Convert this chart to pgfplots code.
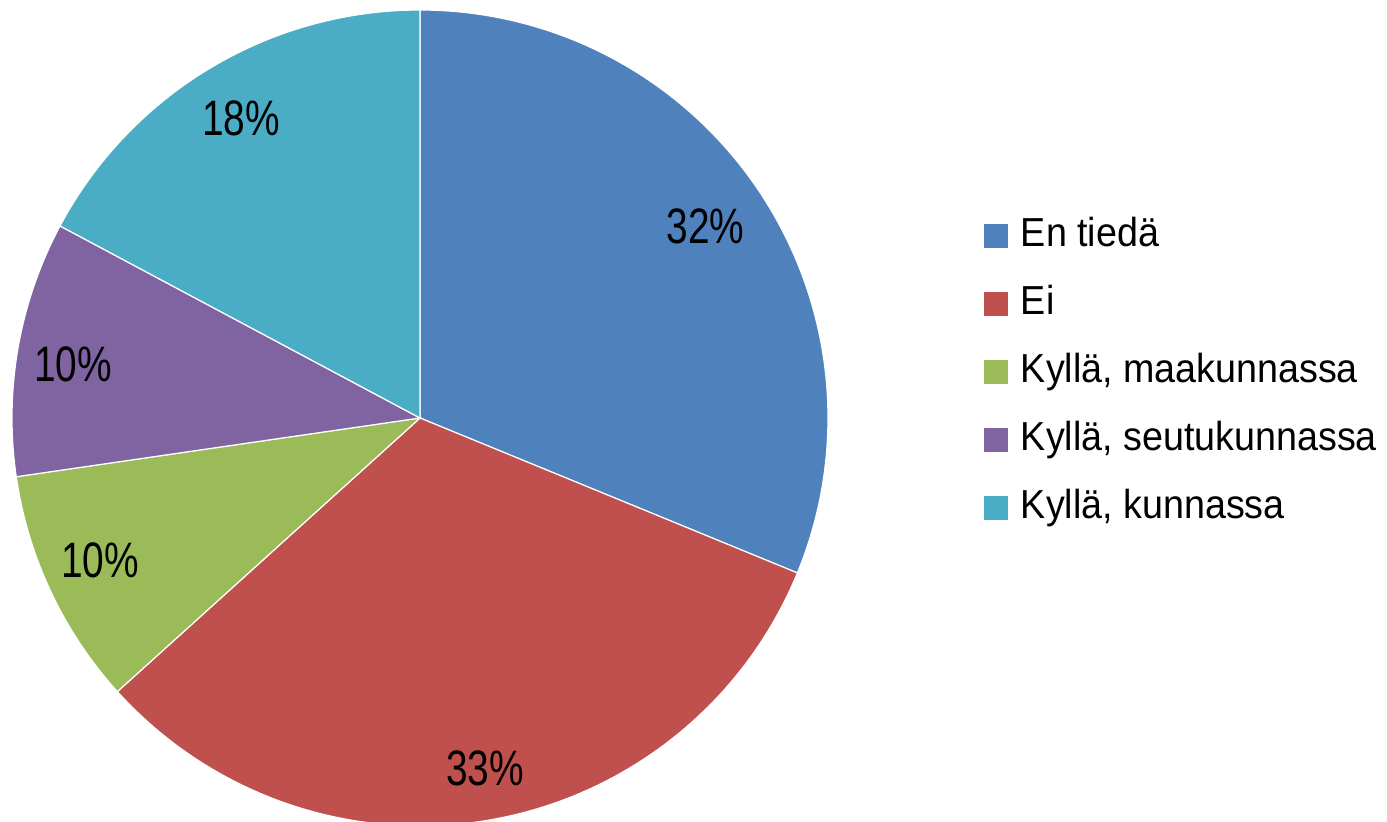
\documentclass[border=0pt]{standalone}
\usepackage{pgfplots}
\pgfplotsset{compat=1.18}
\usepackage{fontspec}
\setmainfont{Liberation Sans}
\newfontfamily\labelfont[FakeStretch=0.78]{Liberation Sans}
\newfontfamily\legfont[FakeStretch=0.93]{Liberation Sans}
\definecolor{cBlue}{HTML}{4F81BD}
\definecolor{cRed}{HTML}{C0504D}
\definecolor{cGreen}{HTML}{9BBB59}
\definecolor{cPurple}{HTML}{8064A2}
\definecolor{cCyan}{HTML}{4BACC6}
% slice shares (percent of the circle), clockwise from 12 o'clock
\def\vA{31.2}
\def\vB{32.1}
\def\vC{9.4}
\def\vD{10.1}
\def\vE{17.2}
\begin{document}
\begin{tikzpicture}
\begin{axis}[
  scale only axis, width=693.5pt, height=411pt,
  xmin=-1.0294, xmax=2.3701, ymin=-0.9902, ymax=1.0245,
  hide axis,
  legend image code/.code={\path[#1,draw=none] (0pt,-6pt) rectangle (12pt,6pt); \path (18pt,0pt);},
  legend cell align=left,
  legend style={at={(0.7094,0.5474)}, anchor=west, draw=none, fill=none,
    inner sep=0pt, row sep=14pt,
    font=\legfont\fontsize{20.25}{24}\selectfont,
    nodes={inner sep=0pt, text height=15pt, text depth=5pt}},
  every axis plot/.append style={draw=white, line width=0.6pt, samples=150, variable=\t},
]
\addplot[fill=cBlue, domain=90-3.6*\vA:90] ({cos(\t)},{sin(\t)}) -- (axis cs:0,0) -- cycle;
\addlegendentry{En tiedä}
\addplot[fill=cRed, domain=90-3.6*(\vA+\vB):90-3.6*\vA] ({cos(\t)},{sin(\t)}) -- (axis cs:0,0) -- cycle;
\addlegendentry{Ei}
\addplot[fill=cGreen, domain=90-3.6*(\vA+\vB+\vC):90-3.6*(\vA+\vB)] ({cos(\t)},{sin(\t)}) -- (axis cs:0,0) -- cycle;
\addlegendentry{Kyllä, maakunnassa}
\addplot[fill=cPurple, domain=90-3.6*(\vA+\vB+\vC+\vD):90-3.6*(\vA+\vB+\vC)] ({cos(\t)},{sin(\t)}) -- (axis cs:0,0) -- cycle;
\addlegendentry{Kyllä, seutukunnassa}
\addplot[fill=cCyan, domain=90-3.6*(\vA+\vB+\vC+\vD+\vE):90-3.6*(\vA+\vB+\vC+\vD)] ({cos(\t)},{sin(\t)}) -- (axis cs:0,0) -- cycle;
\addlegendentry{Kyllä, kunnassa}
\begin{scope}[every node/.style={font=\labelfont\fontsize{24.9}{28}\selectfont, inner sep=0pt}]
\node at (axis cs:0.70,0.47) {32\%};
\node at (axis cs:0.159,-0.858) {33\%};
\node at (axis cs:-0.784,-0.348) {10\%};
\node at (axis cs:-0.85,0.132) {10\%};
\node at (axis cs:-0.439,0.735) {18\%};
\end{scope}
\end{axis}
\pgfresetboundingbox
\useasboundingbox (current axis.south west) rectangle (current axis.north east);
\end{tikzpicture}
\end{document}
